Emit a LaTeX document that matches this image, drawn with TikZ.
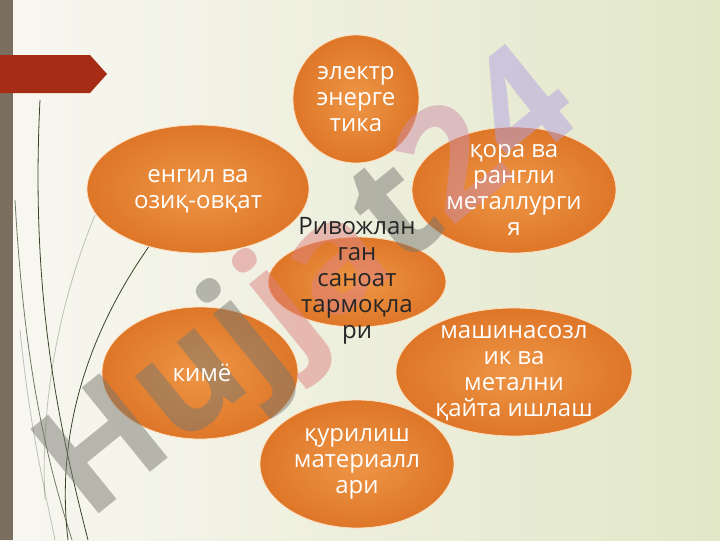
\documentclass[tikz,border=0pt]{standalone}
\usepackage{fontspec}
\setmainfont{Open Sans}
\usetikzlibrary{shapes,shadings}
\definecolor{blobin}{RGB}{238,150,70}
\definecolor{blobout}{RGB}{222,118,40}
\definecolor{bgleft}{RGB}{248,247,241}
\definecolor{bgright}{RGB}{226,231,200}
\definecolor{sidebar}{RGB}{122,110,94}
\definecolor{tabred}{RGB}{166,44,22}
\definecolor{stem}{RGB}{58,68,40}
\definecolor{wmgray}{RGB}{120,120,112}
\definecolor{wmpink}{RGB}{222,130,130}
\definecolor{wmpurple}{RGB}{178,160,226}
\tikzstyle{blob}=[ellipse,inner color=blobin,outer color=blobout,draw=orange!25!white,line width=0.8pt,inner sep=0pt]
\tikzstyle{lbl}=[text=white,align=center,font=\fontsize{24}{26}\selectfont,inner sep=0pt]
\tikzstyle{hub}=[lbl,text=black!85]
\tikzstyle{stemline}=[draw=stem,line width=0.8pt]

\begin{document}
\begin{tikzpicture}[x=1pt,y=-1pt]
      % slide background
      \shade[left color=bgleft,right color=bgright] (0,0) rectangle (720,540);
      \fill[sidebar] (0,0) rectangle (13,540);
      \fill[tabred] (0,55) -- (90,55) -- (107,74) -- (90,93) -- (0,93) -- cycle;
      % grass stems
      \draw[stemline] (40,100) .. controls (30,300) and (60,430) .. (88,540);
      \draw[stemline,opacity=.7] (15,200) .. controls (25,380) and (50,470) .. (72,540);
      \draw[stemline] (150,245) .. controls (90,330) and (55,430) .. (68,540);
      \draw[stemline,opacity=.3] (95,215) .. controls (60,300) and (40,400) .. (45,500);
      \draw[stemline,opacity=.3] (20,330) .. controls (30,430) and (45,490) .. (55,540);
      % ellipses
      \node[blob,minimum width=126,minimum height=128] (energy) at (356,99) {};
      \node[blob,minimum width=204,minimum height=126] (metal) at (514,190) {};
      \node[blob,minimum width=222,minimum height=128] (light) at (198,189) {};
      \node[blob,minimum width=196,minimum height=132] (chem) at (200,373) {};
      \node[blob,minimum width=236,minimum height=128] (machine) at (514,372) {};
      \node[blob,minimum width=194,minimum height=128] (build) at (357,464) {};
      \node[blob,minimum width=178,minimum height=90] (hub) at (357,282) {};
      % watermark
      \node[rotate=39,opacity=.5,inner sep=0pt,font=\fontsize{152}{152}\bfseries\selectfont] (mark) at (312,290)
        {\textcolor{wmgray}{Huj}\textcolor{wmpink}{ja}\textcolor{wmgray}{t}\textcolor{wmpink!60!wmpurple}{2}\textcolor{wmpurple}{4}};
      % labels
      \node[lbl] (energyt) at (energy) {электр\\энерге\\тика};
      \node[lbl] (metalt) at (514,190) {қора ва\\рангли\\металлурги\\я};
      \node[lbl] (lightt) at (198,191) {енгил ва\\озиқ-овқат};
      \node[lbl] (chemt) at (202,373) {кимё};
      \node[lbl] (machinet) at (514,373) {машинасозл\\ик ва\\метални\\қайта ишлаш};
      \node[lbl] (buildt) at (build) {қурилиш\\материалл\\ари};
      \node[hub] (hubt) at (357,281) {Ривожлан\\ган\\саноат\\тармоқла\\ри};
\end{tikzpicture}
\end{document}
